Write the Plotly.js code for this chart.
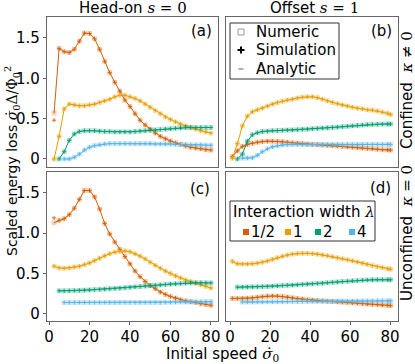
<!DOCTYPE html>
<html>
<head>
<meta charset="utf-8">
<script src="https://cdn.plot.ly/plotly-3.0.1.min.js"></script>
<style>html,body{margin:0;padding:0;background:#fff}</style>
</head>
<body>
<div id="chart" style="width:415px;height:364px"></div>
<script>
// initial speed grids (head-on panels and offset panels)
var speedHead = [2.5,5,7.5,10,12.5,15,17.5,20,22.5,25,27.5,30,32.5,35,37.5,40,42.5,45,47.5,50,52.5,55,57.5,60,62.5,65,67.5,70,72.5,75,77.5,80];
var speedOff = [1.2,3.7,6.2,8.7,11.2,13.7,16.2,18.7,21.2,23.7,26.2,28.7,31.2,33.7,36.2,38.7,41.2,43.7,46.2,48.7,51.2,53.7,56.2,58.7,61.2,63.7,66.2,68.7,71.2,73.7,76.2,78.7,80.3];

var widths = ["1/2", "1", "2", "4"];
var colors = ["#D55E00", "#E69F00", "#009E73", "#56B4E9"];

// (a) head-on, confined
var headConfHalf = [0.57,1.37,1.33,1.32,1.36,1.46,1.56,1.555,1.49,1.36,1.21,1.07,0.95,0.84,0.73,0.65,0.56,0.48,0.42,0.37,0.32,0.28,0.25,0.22,0.20,0.18,0.16,0.145,0.135,0.125,0.115,0.11];
var headConf1 = [0.0,0.28,0.62,0.68,0.67,0.66,0.66,0.67,0.68,0.70,0.72,0.74,0.77,0.79,0.79,0.77,0.75,0.72,0.68,0.64,0.60,0.56,0.52,0.49,0.46,0.43,0.41,0.39,0.37,0.35,0.335,0.32];
var headConf2 = [null,0.0,0.09,0.23,0.31,0.34,0.35,0.35,0.35,0.345,0.34,0.34,0.335,0.335,0.335,0.335,0.34,0.345,0.35,0.355,0.36,0.365,0.37,0.375,0.38,0.385,0.39,0.39,0.39,0.39,0.39,0.39];
var headConf4 = [null,null,0.0,0.0,0.02,0.06,0.11,0.145,0.165,0.175,0.185,0.19,0.19,0.19,0.19,0.19,0.19,0.19,0.19,0.19,0.185,0.185,0.185,0.185,0.18,0.18,0.18,0.175,0.175,0.175,0.17,0.17];

// (b) offset, confined
var offConfHalf = [0.03,0.10,0.155,0.18,0.195,0.207,0.215,0.22,0.22,0.218,0.213,0.207,0.20,0.195,0.19,0.185,0.18,0.176,0.172,0.168,0.164,0.16,0.155,0.15,0.145,0.14,0.135,0.13,0.125,0.12,0.115,0.112,0.11];
var offConf1 = [0.01,0.19,0.41,0.53,0.585,0.61,0.63,0.655,0.68,0.70,0.715,0.73,0.74,0.755,0.765,0.77,0.77,0.76,0.74,0.72,0.70,0.685,0.67,0.655,0.64,0.63,0.62,0.61,0.605,0.595,0.58,0.565,0.55];
var offConf2 = [null,0.0,0.06,0.22,0.30,0.325,0.34,0.345,0.35,0.352,0.355,0.358,0.36,0.363,0.367,0.37,0.374,0.378,0.382,0.386,0.39,0.395,0.40,0.405,0.41,0.415,0.42,0.425,0.428,0.43,0.432,0.433,0.433];
var offConf4 = [null,null,0.01,0.01,0.015,0.045,0.09,0.125,0.15,0.163,0.172,0.177,0.18,0.18,0.18,0.18,0.18,0.18,0.18,0.18,0.18,0.18,0.18,0.18,0.18,0.18,0.18,0.18,0.18,0.18,0.18,0.18,0.18];

// (c) head-on, unconfined
var headFreeHalf = [1.13,1.16,1.18,1.23,1.31,1.42,1.53,1.53,1.45,1.30,1.12,0.99,0.89,0.80,0.71,0.62,0.53,0.46,0.40,0.35,0.31,0.27,0.24,0.215,0.195,0.175,0.16,0.15,0.14,0.125,0.115,0.105];
var headFree1 = [0.59,0.57,0.565,0.57,0.58,0.59,0.61,0.63,0.66,0.69,0.72,0.745,0.765,0.775,0.78,0.77,0.745,0.715,0.68,0.64,0.60,0.565,0.53,0.50,0.47,0.445,0.42,0.40,0.38,0.36,0.34,0.32];
var headFree2 = [null,0.285,0.285,0.286,0.288,0.29,0.293,0.296,0.30,0.303,0.306,0.31,0.314,0.318,0.323,0.328,0.333,0.338,0.343,0.348,0.353,0.358,0.363,0.368,0.372,0.376,0.38,0.383,0.385,0.385,0.384,0.383];
var headFree4 = [null,null,0.14,0.14,0.14,0.14,0.14,0.14,0.14,0.14,0.14,0.14,0.14,0.14,0.14,0.14,0.14,0.14,0.14,0.14,0.14,0.14,0.142,0.143,0.144,0.145,0.146,0.147,0.148,0.149,0.15,0.15];

// (d) offset, unconfined
var offFreeHalf = [0.19,0.19,0.19,0.192,0.197,0.205,0.213,0.218,0.22,0.219,0.214,0.207,0.198,0.19,0.182,0.175,0.17,0.165,0.16,0.156,0.152,0.148,0.144,0.14,0.135,0.13,0.126,0.121,0.117,0.113,0.109,0.105,0.102];
var offFree1 = [0.65,0.62,0.618,0.618,0.62,0.628,0.64,0.655,0.675,0.695,0.713,0.728,0.74,0.747,0.75,0.75,0.747,0.74,0.73,0.72,0.708,0.695,0.682,0.67,0.657,0.643,0.628,0.613,0.598,0.585,0.572,0.56,0.553];
var offFree2 = [null,0.33,0.331,0.332,0.333,0.335,0.337,0.34,0.343,0.346,0.35,0.353,0.356,0.36,0.364,0.368,0.372,0.376,0.38,0.385,0.39,0.395,0.40,0.404,0.408,0.412,0.416,0.419,0.421,0.422,0.422,0.422,0.422];
var offFree4 = [null,null,0.145,0.145,0.146,0.147,0.147,0.148,0.149,0.15,0.15,0.151,0.152,0.152,0.153,0.153,0.154,0.154,0.155,0.155,0.156,0.156,0.157,0.157,0.158,0.158,0.158,0.159,0.159,0.16,0.16,0.16,0.16];

// first simulation points that sit off the numeric curve (lambda = 1/2)
var simFirstHeadConf = 0.48;
var simFirstHeadFree = 1.19;

var panels = [
  {xa: "x", ya: "y", x: speedHead, ys: [headConfHalf, headConf1, headConf2, headConf4], simFirst: simFirstHeadConf},
  {xa: "x2", ya: "y2", x: speedOff, ys: [offConfHalf, offConf1, offConf2, offConf4], simFirst: null},
  {xa: "x3", ya: "y3", x: speedHead, ys: [headFreeHalf, headFree1, headFree2, headFree4], simFirst: simFirstHeadFree},
  {xa: "x4", ya: "y4", x: speedOff, ys: [offFreeHalf, offFree1, offFree2, offFree4], simFirst: null}
];

var traces = [];
panels.forEach(function(p) {
  p.ys.forEach(function(vals, i) {
    traces.push({x: p.x, y: vals, xaxis: p.xa, yaxis: p.ya, type: "scatter", mode: "markers",
      marker: {symbol: "square", size: 5, color: colors[i], opacity: 0.28}, hoverinfo: "skip"});
    traces.push({x: p.x, y: vals, xaxis: p.xa, yaxis: p.ya, type: "scatter", mode: "lines",
      line: {color: colors[i], width: 1}, hoverinfo: "skip"});
    var sim = vals.slice();
    if (i == 0 && p.simFirst != null) sim[0] = p.simFirst;
    traces.push({x: p.x, y: sim, xaxis: p.xa, yaxis: p.ya, type: "scatter", mode: "markers",
      marker: {symbol: "cross-thin-open", size: 3, color: colors[i], line: {color: colors[i], width: 0.9}}, hoverinfo: "skip"});
  });
});

function X(px) { return px / 415; }
function Y(py) { return 1 - py / 364; }

var font = {family: "DejaVu Sans, sans-serif", size: 15, color: "#000"};
var serif = "<span style=\"font-family:'DejaVu Serif',serif\">";

var frame = {showline: true, mirror: true, linecolor: "#666", linewidth: 1.2, showgrid: false, zeroline: false};
function axis(extra) { return Object.assign({}, frame, extra); }

var yTicks = {tickvals: [0, 0.5, 1, 1.5], ticktext: ["0", "0.5", "1.0", "1.5"], ticks: "outside", ticklen: 3, tickcolor: "#666", tickfont: font};
var xTicks = {tickvals: [0, 20, 40, 60, 80], ticks: "outside", ticklen: 3, tickcolor: "#666", tickfont: font, ticklabelstandoff: -1};

var layout = {
  width: 415, height: 364,
  margin: {l: 0, r: 0, t: 0, b: 0},
  paper_bgcolor: "#fff", plot_bgcolor: "#fff",
  showlegend: false,
  font: font,
  xaxis: axis({domain: [X(47), X(218)], range: [-1, 83.5], anchor: "y", showticklabels: false}),
  yaxis: axis(Object.assign({domain: [Y(167), Y(17)], range: [-0.1, 1.76], anchor: "x"}, yTicks)),
  xaxis2: axis({domain: [X(226), X(398)], range: [-2, 84], anchor: "y2", showticklabels: false}),
  yaxis2: axis({domain: [Y(167), Y(17)], range: [-0.1, 1.76], anchor: "x2", showticklabels: false}),
  xaxis3: axis(Object.assign({domain: [X(47), X(218)], range: [-1, 83.5], anchor: "y3"}, xTicks)),
  yaxis3: axis(Object.assign({domain: [Y(321), Y(172)], range: [-0.09, 1.76], anchor: "x3"}, yTicks)),
  xaxis4: axis(Object.assign({domain: [X(226), X(398)], range: [-2, 84], anchor: "y4"}, xTicks)),
  yaxis4: axis({domain: [Y(321), Y(172)], range: [-0.09, 1.76], anchor: "x4", showticklabels: false}),
  shapes: [
    // legend box: markers
    {type: "rect", xref: "paper", yref: "paper", x0: X(230), x1: X(339), y0: Y(79), y1: Y(23), line: {color: "#333", width: 1}, fillcolor: "#fff"},
    {type: "rect", xref: "paper", yref: "paper", x0: X(238), x1: X(244), y0: Y(35), y1: Y(29), line: {color: "#999", width: 1}},
    {type: "line", xref: "paper", yref: "paper", x0: X(237.5), x1: X(244.5), y0: Y(50), y1: Y(50), line: {color: "#000", width: 2}},
    {type: "line", xref: "paper", yref: "paper", x0: X(241), x1: X(241), y0: Y(46.5), y1: Y(53.5), line: {color: "#000", width: 2}},
    {type: "line", xref: "paper", yref: "paper", x0: X(238.5), x1: X(243.5), y0: Y(69), y1: Y(69), line: {color: "#777", width: 1.2}},
    // legend box: interaction width
    {type: "rect", xref: "paper", yref: "paper", x0: X(230), x1: X(375), y0: Y(241), y1: Y(201), line: {color: "#333", width: 1}, fillcolor: "#fff"}
  ],
  annotations: []
};

var swatchX = [246, 288, 318, 352];
widths.forEach(function(w, i) {
  layout.shapes.push({type: "rect", xref: "paper", yref: "paper", x0: X(swatchX[i] - 3), x1: X(swatchX[i] + 3),
    y0: Y(235), y1: Y(229), line: {width: 0}, fillcolor: colors[i]});
  layout.annotations.push({text: w, xref: "paper", yref: "paper", x: X(swatchX[i] + 3), y: Y(232),
    xanchor: "left", yanchor: "middle", showarrow: false, font: font});
});

function note(text, px, py, opts) {
  layout.annotations.push(Object.assign({text: text, xref: "paper", yref: "paper", x: X(px), y: Y(py),
    xanchor: "center", yanchor: "middle", showarrow: false, font: font}, opts || {}));
}

note("Head-on " + serif + "<i>s</i> = 0</span>", 133, 8);
note("Offset " + serif + "<i>s</i> = 1</span>", 314, 8);
note("Scaled energy loss " + serif + "<i>σ̇</i><sub>0</sub>Δ/Φ<sub>0</sub><sup>2</sup></span>", 12, 161,
  {textangle: -90, font: Object.assign({}, font, {size: 14})});
note("Initial speed " + serif + "<i>σ̇</i><sub>0</sub></span>", 222, 354);
note("Confined  " + serif + "<i>κ</i> ≠ 0</span>", 407, 90, {textangle: -90});
note("Unconfined  " + serif + "<i>κ</i> = 0</span>", 407, 233, {textangle: -90});
note("(a)", 214, 31, {xanchor: "right"});
note("(b)", 394, 31, {xanchor: "right"});
note("(c)", 212, 189, {xanchor: "right"});
note("(d)", 393, 188, {xanchor: "right"});
note("Numeric", 254, 32, {xanchor: "left"});
note("Simulation", 254, 50, {xanchor: "left"});
note("Analytic", 254, 69, {xanchor: "left"});
note("Interaction width " + serif + "<i>λ</i></span>", 304, 212);

Plotly.newPlot("chart", traces, layout, {staticPlot: true});
</script>
</body>
</html>
